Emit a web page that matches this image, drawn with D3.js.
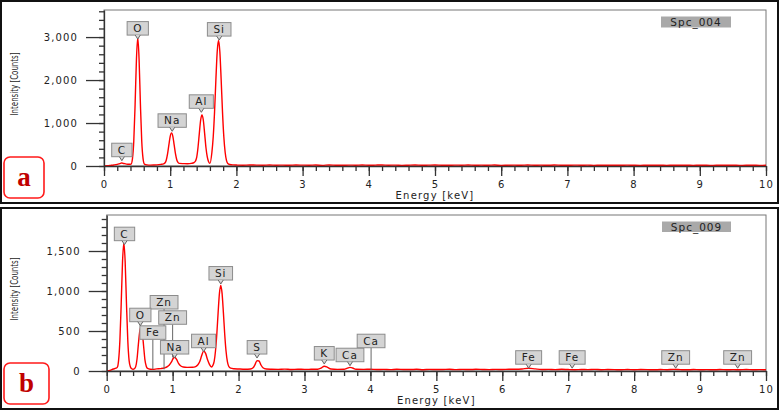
<!DOCTYPE html>
<html>
<head>
<meta charset="utf-8">
<script src="https://cdn.jsdelivr.net/npm/d3@7"></script>
<style>
  body { margin: 0; background: #fff; }
  svg text { font-family: "DejaVu Sans", sans-serif; fill: #222; }
</style>
</head>
<body>
<div id="chart"></div>
<script>
// EDS spectrum a (Spc_004): [energy keV, counts]
const spectrumA = [
  [0,0],[0.05,5],[0.1,14],[0.15,24],[0.2,38],[0.25,62],[0.27,70],[0.3,58],[0.34,44],[0.38,40],
  [0.41,45],[0.43,170],[0.45,580],[0.47,1440],[0.49,2480],[0.51,2990],[0.53,2480],[0.55,1440],[0.57,580],[0.59,170],[0.61,45],
  [0.65,25],[0.7,20],[0.75,22],[0.8,26],[0.86,38],
  [0.9,50],[0.92,70],[0.94,135],[0.96,280],[0.98,490],[1.0,690],[1.02,770],[1.04,690],[1.06,490],[1.08,280],[1.1,140],[1.12,80],[1.14,60],
  [1.2,55],[1.26,52],[1.32,62],
  [1.36,80],[1.38,110],[1.4,200],[1.42,430],[1.44,760],[1.46,1070],[1.48,1190],[1.5,1070],[1.52,760],[1.54,430],[1.56,210],[1.58,100],[1.6,60],
  [1.63,320],[1.65,680],[1.67,1260],[1.69,2000],[1.71,2660],[1.73,2920],[1.75,2660],[1.77,2000],[1.79,1260],[1.81,680],[1.83,320],[1.85,130],[1.87,60],[1.9,35],[1.95,25]
];
// noisy background of a, 2.0 to 10.0 keV every 0.1 keV
const tailA = [
  22,18,25,20,17,24,19,21,16,23, 20,18,22,15,24,19,17,21,18,23,
  16,20,24,18,21,15,19,22,17,20, 23,18,16,21,19,24,17,20,18,22,
  15,19,21,17,23,18,20,16,22,19, 17,21,18,20,15,19,17,18,16,20,
  17,15,19,16,18,15,17,16,18,15, 17,16,15,18,16,17,15,16,17,15, 16
];

// EDS spectrum b (Spc_009)
const spectrumB = [
  [0,0],[0.05,8],[0.1,25],[0.14,35],[0.16,45],[0.18,130],[0.2,380],[0.22,840],[0.24,1365],[0.26,1600],[0.28,1365],[0.3,840],[0.32,380],[0.34,130],[0.36,50],[0.38,28],[0.4,22],
  [0.42,28],[0.44,55],[0.46,150],[0.48,330],[0.5,490],[0.52,550],[0.54,480],[0.56,310],[0.58,140],[0.6,60],[0.62,32],[0.66,22],
  [0.7,20],[0.76,26],[0.82,30],[0.88,40],[0.92,55],
  [0.95,75],[0.98,110],[1.01,160],[1.03,172],[1.06,145],[1.09,95],[1.12,65],[1.16,50],[1.22,45],[1.3,46],[1.35,55],
  [1.38,75],[1.41,115],[1.44,190],[1.47,250],[1.5,220],[1.53,140],[1.56,80],[1.59,50],[1.61,70],
  [1.63,120],[1.65,250],[1.67,460],[1.69,730],[1.71,970],[1.73,1070],[1.75,970],[1.77,730],[1.79,460],[1.81,250],[1.83,120],[1.85,60],[1.88,35],[1.93,28],[2.0,25],[2.1,22],
  [2.18,25],[2.22,40],[2.25,80],[2.28,130],[2.31,125],[2.34,75],[2.37,40],[2.42,25],
  [2.5,22],[2.6,20],[2.7,24],[2.8,19],[2.9,22],[3.0,20],[3.1,21],[3.2,22],[3.25,35],[3.3,60],[3.35,45],[3.4,25],
  [3.5,20],[3.6,22],[3.65,35],[3.69,45],[3.73,38],[3.78,22],[3.9,20],[4.0,22],[4.1,18]
];
// background of b, 4.2 to 10.0 keV every 0.1 keV
const tailB = [
  20,17,22,19,18,21,16,20,18,19,
  22,17,20,18,21,19,17,20,18,22,
  21,25,35,26,19,20,17,21,18,16,
  19,17,20,16,18,17,15,19,16,18,
  17,15,18,16,20,17,15,18,16,17,
  15,18,16,17,15,19,16,17,15
];

// peak labels: [element, energy keV, pointer tip counts, box level counts (only for raised labels)]
const labelsA = [
  ["C", 0.27, 123], ["O", 0.51, 2953], ["Na", 1.03, 807], ["Al", 1.47, 1249], ["Si", 1.74, 2930]
];
const labelsB = [
  ["Fe", 0.70, 20, 396], ["Zn", 0.87, 20, 775], ["Zn", 1.00, 170, 584],
  ["C", 0.27, 1579], ["O", 0.51, 566], ["Na", 1.03, 162], ["Al", 1.47, 241], ["Si", 1.73, 1087],
  ["S", 2.28, 162], ["K", 3.30, 87], ["Ca", 3.69, 66], ["Ca", 4.01, 10, 291],
  ["Fe", 6.40, 35], ["Fe", 7.06, 35], ["Zn", 8.63, 35], ["Zn", 9.57, 35]
];

const xTicks = [0,1,2,3,4,5,6,7,8,9,10];
const yTicksA = [0,1000,2000,3000];
const yTicksB = [0,500,1000,1500];

function withTail(spec, tail, start) {
  return spec.concat(tail.map((c, i) => [+(start + i * 0.1).toFixed(2), c]));
}

const width = 780, height = 411;
const svg = d3.select("#chart")
  .append("svg")
  .attr("width", width)
  .attr("height", height);

const panels = [
  { id: "a", name: "Spc_004", left: 104, right: 766, top: 10, bottom: 166, yMax: 3630, minorStep: 200,
    yTicks: yTicksA, data: withTail(spectrumA, tailA, 2.0), labels: labelsA,
    frame: [1, 1, 777, 202], letterBox: [4, 157, 40, 41], spcBox: [661, 16.5, 70, 11], titleY: 84 },
  { id: "b", name: "Spc_009", left: 106.7, right: 766, top: 215, bottom: 371, yMax: 1950, minorStep: 100,
    yTicks: yTicksB, data: withTail(spectrumB, tailB, 4.2), labels: labelsB,
    frame: [1, 208, 777, 201], letterBox: [4, 363, 45, 41], spcBox: [662, 221.5, 69, 10.5], titleY: 289 }
];

panels.forEach(function(p) {
  const x = d3.scaleLinear().domain([0, 10]).range([p.left, p.right]);
  const y = d3.scaleLinear().domain([0, p.yMax]).range([p.bottom, p.top]);
  const g = svg.append("g");

  // outer frame
  g.append("rect")
    .attr("x", p.frame[0]).attr("y", p.frame[1])
    .attr("width", p.frame[2]).attr("height", p.frame[3])
    .attr("fill", "none").attr("stroke", "#111").attr("stroke-width", 2);

  // plot frame
  g.append("rect")
    .attr("x", p.left).attr("y", p.top)
    .attr("width", p.right - p.left).attr("height", p.bottom - p.top)
    .attr("fill", "none").attr("stroke", "#777").attr("stroke-width", 1);

  g.append("clipPath").attr("id", "clip-" + p.id)
    .append("rect")
    .attr("x", p.left).attr("y", p.top)
    .attr("width", p.right - p.left).attr("height", p.bottom - p.top + 1);

  // spectrum
  const line = d3.line()
    .x(d => x(d[0]))
    .y(d => y(d[1]))
    .curve(d3.curveMonotoneX);

  g.append("path")
    .datum(p.data)
    .attr("clip-path", `url(#clip-${p.id})`)
    .attr("d", line)
    .attr("fill", "none")
    .attr("stroke", "#ff0000")
    .attr("stroke-width", 1.4);

  // y axis
  const yMinor = d3.range(0, p.yMax, p.minorStep);
  g.append("g")
    .attr("class", "axis")
    .attr("transform", `translate(${p.left},0)`)
    .call(d3.axisLeft(y).tickValues(yMinor).tickSize(5).tickFormat(""))
    .call(s => s.select(".domain").remove());

  g.append("g")
    .attr("class", "axis")
    .attr("transform", `translate(${p.left},0)`)
    .call(d3.axisLeft(y).tickValues(p.yTicks).tickSize(18).tickSizeOuter(0).tickPadding(8).tickFormat(d3.format(",")));

  // x axis
  const xMinor = d3.range(0, 10.001, 0.2);
  g.append("g")
    .attr("class", "axis")
    .attr("transform", `translate(0,${p.bottom})`)
    .call(d3.axisBottom(x).tickValues(xMinor).tickSize(5).tickFormat(""))
    .call(s => s.select(".domain").remove());

  g.append("g")
    .attr("class", "axis")
    .attr("transform", `translate(0,${p.bottom})`)
    .call(d3.axisBottom(x).tickValues(xTicks).tickSize(10).tickSizeOuter(0).tickPadding(5).tickFormat(d3.format("d")));

  g.selectAll(".axis path, .axis line").attr("stroke", "#333").attr("stroke-width", 1.3);
  g.selectAll(".axis text")
    .attr("font-size", 10)
    .attr("letter-spacing", 1.1)
    .style("fill", "#222");

  // axis titles
  g.append("text")
    .attr("x", (p.left + p.right) / 2)
    .attr("y", p.bottom + 33)
    .attr("text-anchor", "middle")
    .attr("font-size", 10)
    .attr("letter-spacing", 1.2)
    .text("Energy [keV]");

  g.append("text")
    .attr("transform", `translate(18,${p.titleY}) rotate(-90)`)
    .attr("text-anchor", "middle")
    .attr("font-size", 10)
    .attr("textLength", 63)
    .attr("lengthAdjust", "spacingAndGlyphs")
    .text("Intensity [Counts]");

  // spectrum name
  g.append("rect")
    .attr("x", p.spcBox[0]).attr("y", p.spcBox[1])
    .attr("width", p.spcBox[2]).attr("height", p.spcBox[3])
    .attr("fill", "#a9a9a9");
  g.append("text")
    .attr("x", p.spcBox[0] + p.spcBox[2] / 2)
    .attr("y", p.spcBox[1] + p.spcBox[3] / 2 + 3.8)
    .attr("text-anchor", "middle")
    .attr("font-size", 10.5)
    .attr("letter-spacing", 1)
    .text(p.name);

  // panel letter
  g.append("rect")
    .attr("x", p.letterBox[0]).attr("y", p.letterBox[1])
    .attr("width", p.letterBox[2]).attr("height", p.letterBox[3])
    .attr("rx", 6)
    .attr("fill", "#fff").attr("stroke", "#ff1a1a").attr("stroke-width", 1.6);
  g.append("text")
    .attr("x", p.letterBox[0] + p.letterBox[2] / 2)
    .attr("y", p.letterBox[1] + p.letterBox[3] / 2 + 8)
    .attr("text-anchor", "middle")
    .style("font-family", "'Liberation Serif', 'DejaVu Serif', serif")
    .style("font-weight", "bold")
    .style("font-size", "27px")
    .style("fill", "#c00000")
    .text(p.id);

  // peak labels: pointer lines first, then boxes on top
  const lab = g.append("g");
  p.labels.forEach(function(d) {
    if (d[3] != null) {
      lab.append("line")
        .attr("x1", x(d[1])).attr("x2", x(d[1]))
        .attr("y1", y(d[3])).attr("y2", y(d[2]))
        .attr("stroke", "#666").attr("stroke-width", 1);
    }
  });
  p.labels.forEach(function(d) {
    const cx = x(d[1]);
    const bb = d[3] != null ? y(d[3]) : y(d[2]) - 4;
    const box = lab.append("g");
    const r = box.append("rect");
    const t = box.append("text")
      .attr("x", cx)
      .attr("y", bb - 3)
      .attr("text-anchor", "middle")
      .attr("font-size", 10.5)
      .attr("letter-spacing", 1)
      .text(d[0]);
    const w = t.node().getComputedTextLength() + 12;
    r.attr("x", cx - w / 2).attr("y", bb - 13.5)
      .attr("width", w).attr("height", 13.5)
      .attr("fill", "#d4d4d4").attr("stroke", "#8c8c8c").attr("stroke-width", 1);
    if (d[3] == null) {
      box.append("path")
        .attr("d", `M${cx - 2.5},${bb} L${cx},${bb + 4} L${cx + 2.5},${bb}`)
        .attr("fill", "#d4d4d4").attr("stroke", "#666").attr("stroke-width", 1);
    }
  });
});
</script>
</body>
</html>
